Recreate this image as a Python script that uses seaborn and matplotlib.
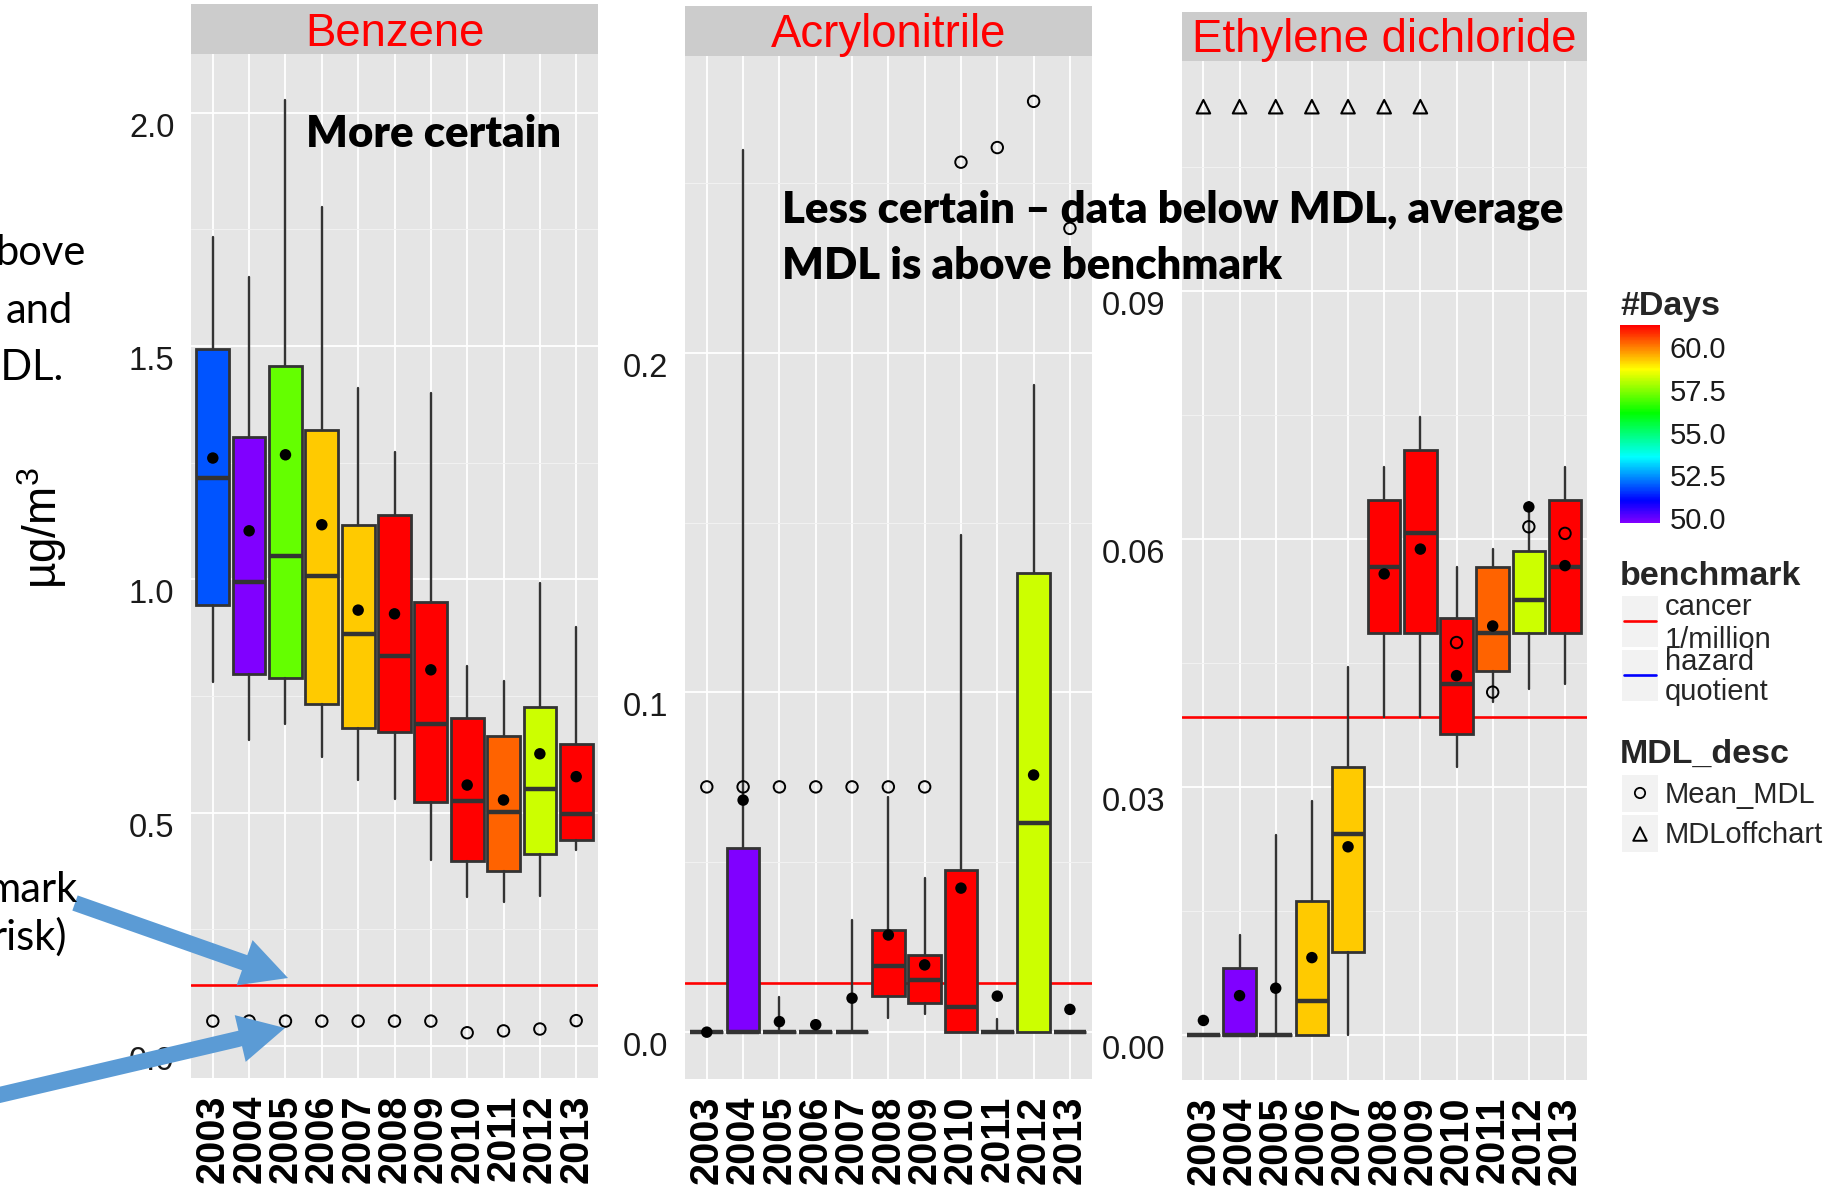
import numpy as np
import pandas as pd
import matplotlib
matplotlib.use("Agg")
import matplotlib.pyplot as plt
import seaborn as sns
from matplotlib.colors import ListedColormap, Normalize, hsv_to_rgb
from matplotlib.cm import ScalarMappable
from matplotlib.patches import FancyArrow, Rectangle

# ---------------- data ----------------
years = [str(y) for y in range(2003, 2014)]
days = [51.86, 49.73, 57.15, 59.21, 59.21, 61.26, 61.26, 61.26, 60.24, 58.18, 61.26]

# Benzene
bz_whishi = [1.734, 1.648, 2.027, 1.798, 1.410, 1.272, 1.400, 0.814, 0.782, 0.992, 0.898]
bz_q3     = [1.494, 1.305, 1.458, 1.320, 1.117, 1.138, 0.951, 0.703, 0.665, 0.727, 0.648]
bz_med    = [1.217, 0.994, 1.049, 1.008, 0.882, 0.836, 0.689, 0.525, 0.502, 0.551, 0.498]
bz_q1     = [0.944, 0.798, 0.788, 0.732, 0.681, 0.673, 0.523, 0.397, 0.374, 0.412, 0.442]
bz_whislo = [0.780, 0.656, 0.690, 0.619, 0.570, 0.529, 0.399, 0.318, 0.308, 0.322, 0.420]
bz_mean   = [1.260, 1.104, 1.267, 1.117, 0.934, 0.926, 0.806, 0.559, 0.527, 0.626, 0.577]
bz_mdl    = [0.053, 0.053, 0.053, 0.053, 0.053, 0.053, 0.053, 0.028, 0.032, 0.036, 0.054]
bz_bench  = 0.13

# Acrylonitrile
ac_whishi = [0.0, 0.2597, 0.0103, 0.0, 0.0331, 0.0692, 0.0453, 0.1463, 0.0039, 0.1904, 0.0]
ac_q3     = [0.0, 0.0541, 0.0, 0.0, 0.0, 0.0302, 0.0226, 0.0478, 0.0, 0.1353, 0.0]
ac_med    = [0.0, 0.0, 0.0, 0.0, 0.0, 0.0194, 0.0153, 0.0074, 0.0, 0.0617, 0.0]
ac_q1     = [0.0, 0.0, 0.0, 0.0, 0.0, 0.0106, 0.0086, 0.0, 0.0, 0.0, 0.0]
ac_whislo = [0.0, 0.0, 0.0, 0.0, 0.0, 0.0041, 0.0052, 0.0, 0.0, 0.0, 0.0]
ac_mean   = [0.0, 0.0683, 0.0031, 0.0022, 0.0100, 0.0286, 0.0198, 0.0424, 0.0106, 0.0757, 0.0067]
ac_mdl    = [0.0722, 0.0722, 0.0722, 0.0722, 0.0722, 0.0722, 0.0722, 0.2561, 0.2604, 0.2740, 0.2366]
ac_bench  = 0.0144

# Ethylene dichloride
ed_whishi = [0.0, 0.0121, 0.0242, 0.0283, 0.0445, 0.0687, 0.0748, 0.0566, 0.0588, 0.0645, 0.0687]
ed_q3     = [0.0, 0.0082, 0.0, 0.0162, 0.0324, 0.0647, 0.0708, 0.0505, 0.0566, 0.0586, 0.0647]
ed_med    = [0.0, 0.0, 0.0, 0.0041, 0.0243, 0.0566, 0.0607, 0.0425, 0.0486, 0.0526, 0.0566]
ed_q1     = [0.0, 0.0, 0.0, 0.0, 0.0101, 0.0486, 0.0486, 0.0365, 0.0440, 0.0486, 0.0486]
ed_whislo = [0.0, 0.0, 0.0, 0.0, 0.0, 0.0385, 0.0385, 0.0325, 0.0403, 0.0419, 0.0425]
ed_mean   = [0.0018, 0.0048, 0.0057, 0.0094, 0.0228, 0.0558, 0.0588, 0.0435, 0.0495, 0.0639, 0.0568]
ed_mdl    = [np.nan] * 7 + [0.0475, 0.0415, 0.0615, 0.0607]
ed_mdl_offchart = [0.1123] * 7 + [np.nan] * 4
ed_bench  = 0.0385

# ---------------- style ----------------
sns.set_theme(style="darkgrid")
plt.rcParams["font.family"] = ["Liberation Sans", "DejaVu Sans"]
plt.rcParams["mathtext.fontset"] = "custom"
plt.rcParams["mathtext.rm"] = "Liberation Sans"
plt.rcParams["mathtext.default"] = "regular"

W, H = 1844, 1192
fig = plt.figure(figsize=(W / 100, H / 100), dpi=100, facecolor="white")

hues = np.linspace(0.75, 0.0, 256)
cmap = ListedColormap(hsv_to_rgb(np.stack([hues, np.ones(256), np.ones(256)], axis=1)))
norm = Normalize(vmin=min(days), vmax=max(days))

EDGE = "#333333"
TICKC = "#7F7F7F"


def add_ax(L, R, T, B):
    return fig.add_axes([L / W, 1 - B / H, (R - L) / W, (B - T) / H])


def panel(box, stats_lists, mean, mdl, bench, ylim, major, majlab, minor, offchart=None):
    L, R, sT, T, B = box
    ax = add_ax(L, R, T, B)
    ax.set_facecolor("#E5E5E5")
    whislo, q1, med, q3, whishi = stats_lists
    stats = [dict(whislo=a, q1=b, med=c, q3=d, whishi=e, fliers=[])
             for a, b, c, d, e in zip(whislo, q1, med, q3, whishi)]
    pos = np.arange(len(years))
    bp = ax.bxp(stats, positions=pos, widths=0.9, patch_artist=True, showcaps=False,
                showfliers=False, zorder=2,
                boxprops=dict(edgecolor=EDGE, linewidth=2.0),
                medianprops=dict(color=EDGE, linewidth=3.2, solid_capstyle="butt"),
                whiskerprops=dict(color=EDGE, linewidth=1.7))
    for patch, d in zip(bp["boxes"], days):
        patch.set_facecolor(cmap(norm(d)))
    ax.axhline(bench, color="#FF0000", lw=1.9, zorder=1.5)
    sns.scatterplot(x=pos, y=mean, ax=ax, color="black", s=68, edgecolor="none",
                    legend=False, zorder=4)
    sns.scatterplot(x=pos, y=mdl, ax=ax, marker="o", color="black", s=68, linewidth=1.4,
                    legend=False, zorder=5)
    c = ax.collections[-1]
    c.set_facecolor("none"); c.set_edgecolor("black")
    if offchart is not None:
        sns.scatterplot(x=pos, y=offchart, ax=ax, marker="^", color="black", s=95,
                        linewidth=1.5, legend=False, zorder=5)
        c = ax.collections[-1]
        c.set_facecolor("none"); c.set_edgecolor("black")
    ax.set_xlim(-0.6, len(years) - 0.4)
    ax.set_ylim(*ylim)
    ax.set_xticks(pos)
    ax.set_xticklabels(years, rotation=90, fontweight="bold", fontsize=28.5, color="black")
    ax.set_yticks(major)
    ax.set_yticklabels(majlab, fontsize=23.5, color="#1a1a1a", va="top")
    ax.set_yticks(minor, minor=True)
    ax.set_axisbelow(True)
    ax.grid(which="major", color="white", lw=1.3)
    ax.grid(which="minor", axis="y", color="#F2F2F2", lw=0.7)
    ax.grid(which="minor", axis="x", visible=False)
    ax.tick_params(which="major", length=7, width=1.1, color=TICKC, pad=5)
    ax.tick_params(which="minor", length=0)
    for s in ax.spines.values():
        s.set_visible(False)
    ax.set_xlabel(""); ax.set_ylabel("")
    # facet strip
    st = add_ax(L, R, sT, T)
    st.set_facecolor("#CCCCCC")
    st.grid(False)
    st.set_xticks([]); st.set_yticks([])
    for s in st.spines.values():
        s.set_visible(False)
    return ax


panel((191, 598, 3.8, 53.6, 1078),
      (bz_whislo, bz_q1, bz_med, bz_q3, bz_whishi), bz_mean, bz_mdl, bz_bench,
      (-0.069, 2.127), [0, 0.5, 1.0, 1.5, 2.0], ["0.0", "0.5", "1.0", "1.5", "2.0"],
      [0.25, 0.75, 1.25, 1.75])
panel((685, 1091.7, 5.7, 55.5, 1078.7),
      (ac_whislo, ac_q1, ac_med, ac_q3, ac_whishi), ac_mean, ac_mdl, ac_bench,
      (-0.0137, 0.2875), [0, 0.1, 0.2], ["0.0", "0.1", "0.2"], [0.05, 0.15, 0.25])
panel((1181.7, 1586.7, 11.5, 61.2, 1080),
      (ed_whislo, ed_q1, ed_med, ed_q3, ed_whishi), ed_mean, ed_mdl, ed_bench,
      (-0.0054, 0.1178), [0, 0.03, 0.06, 0.09], ["0.00", "0.03", "0.06", "0.09"],
      [0.015, 0.045, 0.075, 0.105], offchart=ed_mdl_offchart)

# ---------------- colourbar legend ----------------
cax = add_ax(1620, 1660, 325, 523)
sm = ScalarMappable(norm=norm, cmap=cmap)
cb = fig.colorbar(sm, cax=cax, ticks=[50, 52.5, 55, 57.5, 60])
cb.set_ticklabels(["50.0", "52.5", "55.0", "57.5", "60.0"])
cb.outline.set_visible(False)
cb.minorticks_off()
cax.tick_params(axis="y", which="major", direction="in", length=7, width=1.2,
                color="white", left=True, right=True, labelleft=False, labelright=True,
                labelsize=21, labelcolor="#1a1a1a", pad=7)

# ---------------- overlay (slide annotations, legend keys) ----------------
ov = fig.add_axes([0, 0, 1, 1], zorder=10)
ov.set_xlim(0, W); ov.set_ylim(H, 0)
ov.axis("off")
ov.patch.set_alpha(0)

# strip titles
for cx, by, nm in [(394.5, 45.5, "Benzene"), (888.3, 46.8, "Acrylonitrile"),
                   (1384.2, 51.7, "Ethylene dichloride")]:
    ov.text(cx, by, nm, ha="center", va="baseline", color="#FF0000", fontsize=32.8)

# y label
ov.text(42, 528, "µg/m$^{3}$", rotation=90, ha="center", va="center", fontsize=33, color="black")

# legend: titles
ov.text(1620, 315, "#Days", fontsize=24.5, fontweight="bold", va="baseline", ha="left")
ov.text(1620, 585, "benchmark", fontsize=24.5, fontweight="bold", va="baseline", ha="left")
ov.text(1620, 763, "MDL_desc", fontsize=24.5, fontweight="bold", va="baseline", ha="left")
# benchmark keys
for y0 in (596, 650):
    ov.add_patch(Rectangle((1622, y0), 36, 51, facecolor="#F2F2F2", edgecolor="none"))
ov.plot([1624, 1656], [620.7, 620.7], color="#FF0000", lw=1.9)
ov.plot([1624, 1656], [675, 675], color="#0000FF", lw=1.9)
for y, s in [(615, "cancer"), (648, "1/million"), (670, "hazard"), (700, "quotient")]:
    ov.text(1665, y, s, fontsize=21, va="baseline", ha="left")
# MDL keys
for y0 in (775, 815):
    ov.add_patch(Rectangle((1622, y0), 36, 37, facecolor="#F2F2F2", edgecolor="none"))
ov.scatter([1640], [793], s=55, marker="o", facecolor="none", edgecolor="black", linewidth=1.3)
ov.scatter([1640], [834], s=95, marker="^", facecolor="none", edgecolor="black", linewidth=1.4)
ov.text(1665, 803, "Mean_MDL", fontsize=21, va="baseline", ha="left")
ov.text(1665, 843, "MDLoffchart", fontsize=21, va="baseline", ha="left")

# slide annotations
ANN = dict(fontsize=31.4, fontweight="heavy", family="Lato", va="baseline", ha="left",
           color="black")
ov.text(306, 147, "More certain", **ANN)
ov.text(782, 222, "Less certain \u2013 data below MDL, average", **ANN)
ov.text(782, 279, "MDL is above benchmark", **ANN)

for x, y, s in [(85, 265, "bove"), (73, 323, "and"), (63, 380, "IDL."),
                (77, 902, "mark"), (67, 950, "risk)")]:
    ov.text(x, y, s, fontsize=30, family="Lato", va="baseline", ha="right", color="black")

BLUE = "#5B9BD5"
ov.add_patch(FancyArrow(75, 903, 213, 75, width=16, head_width=48, head_length=46,
                        length_includes_head=True, color=BLUE, lw=0))
ov.add_patch(FancyArrow(-5, 1096, 290, -68, width=16, head_width=48, head_length=46,
                        length_includes_head=True, color=BLUE, lw=0))

fig.savefig("out.png", dpi=100, facecolor="white")
